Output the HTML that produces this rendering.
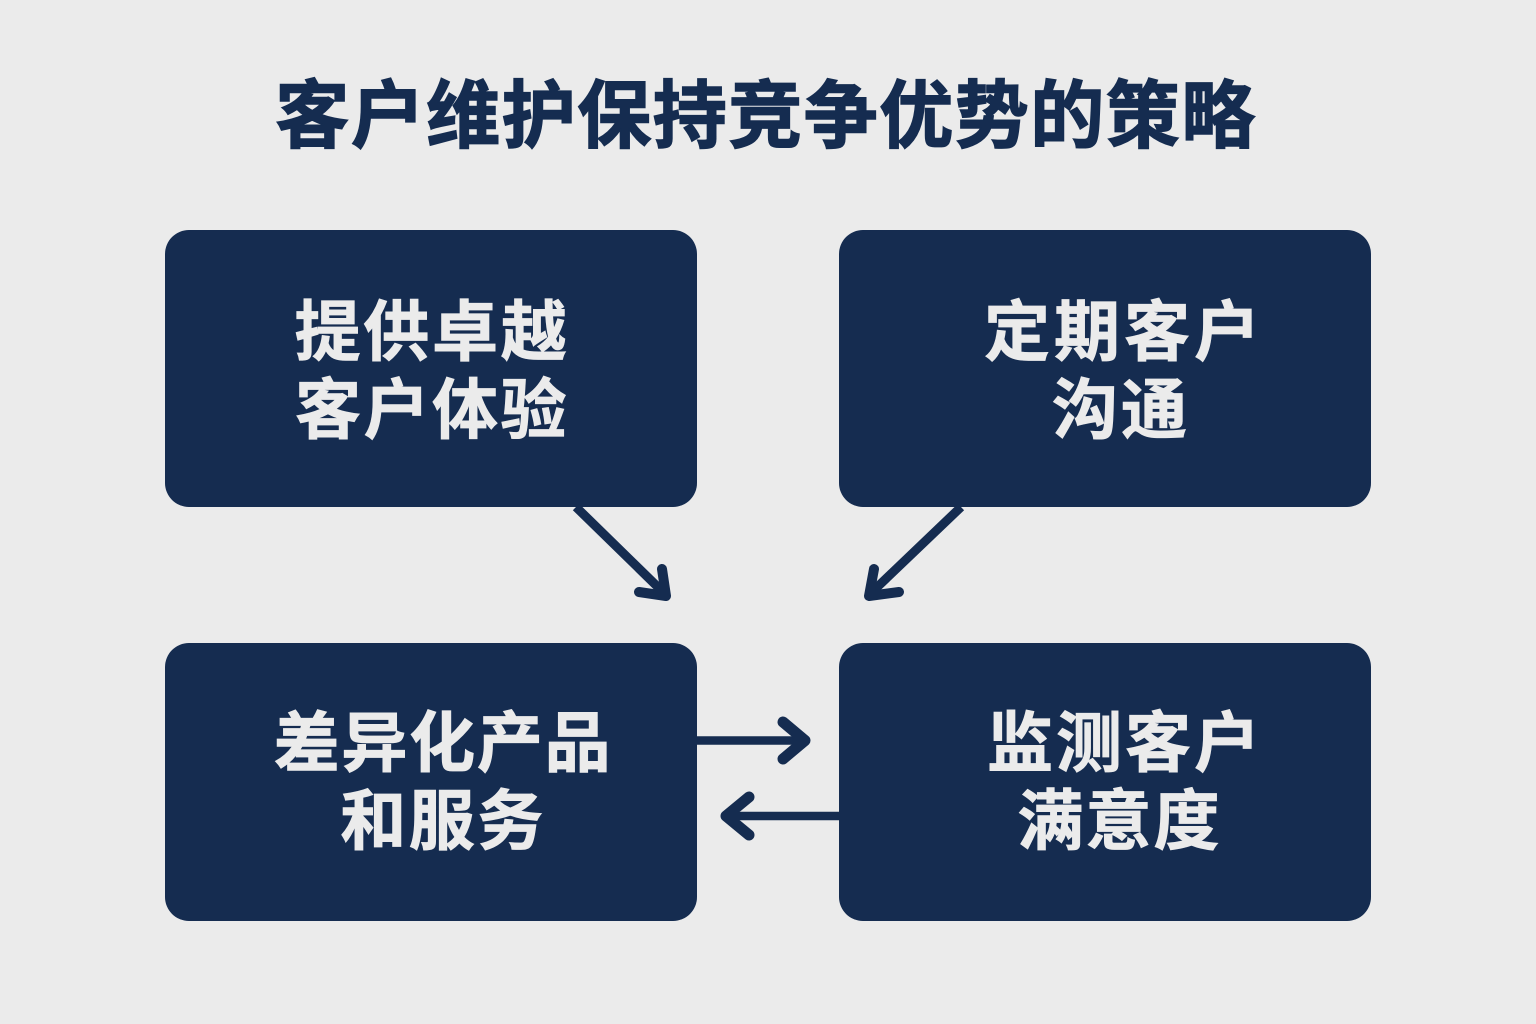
<!DOCTYPE html>
<html lang="zh"><head><meta charset="utf-8"><title>客户维护保持竞争优势的策略</title>
<style>
html,body{margin:0;padding:0;background:#ebebeb}
svg{display:block}
text{font-family:"Liberation Sans","Noto Sans CJK SC",sans-serif;font-weight:700;text-anchor:middle}
.t{fill:#ebebeb;stroke:#ebebeb;stroke-width:.8px;font-size:66px}
</style></head><body>
<svg width="1536" height="1024" viewBox="0 0 1536 1024" xmlns="http://www.w3.org/2000/svg">
<rect width="1536" height="1024" fill="#ebebeb"/>
<text x="766" y="141.500" font-size="74" letter-spacing="1.5" fill="#152c50" stroke="#152c50" stroke-width="1.400">客户维护保持竞争优势的策略</text>
<g fill="#152c50">
<rect x="165" y="230" width="532" height="277" rx="24"/>
<rect x="839" y="230" width="532" height="277" rx="24"/>
<rect x="165" y="643" width="532" height="278" rx="24"/>
<rect x="839" y="643" width="532" height="278" rx="24"/>
</g>
<text class="t" x="432" y="355" letter-spacing="2.700">提供卓越</text>
<text class="t" x="432" y="433" letter-spacing="2.500">客户体验</text>
<text class="t" x="1124" y="355" letter-spacing="4">定期客户</text>
<text class="t" x="1121" y="433" letter-spacing="3">沟通</text>
<text class="t" x="443" y="766" letter-spacing="1.750">差异化产品</text>
<text class="t" x="443" y="844" letter-spacing="2.500">和服务</text>
<text class="t" x="1125" y="766" letter-spacing="3">监测客户</text>
<text class="t" x="1119.500" y="844" letter-spacing="2">满意度</text>
<g fill="none" stroke="#152c50" stroke-linejoin="round">
<path d="M576 507L664 593" stroke-width="9"/>
<path d="M662 569L666 596L639 592" stroke-width="10" stroke-linecap="round"/>
<path d="M961 507L871 593" stroke-width="9"/>
<path d="M874 569L869 596L899 592" stroke-width="10" stroke-linecap="round"/>
<path d="M697 740.500H802" stroke-width="8.500"/>
<path d="M783 722L805 740.500L783 759" stroke-width="11" stroke-linecap="round"/>
<path d="M839 816H730" stroke-width="8.500"/>
<path d="M749 797L726 816L749 835" stroke-width="11" stroke-linecap="round"/>
</g>
</svg>
</body></html>
